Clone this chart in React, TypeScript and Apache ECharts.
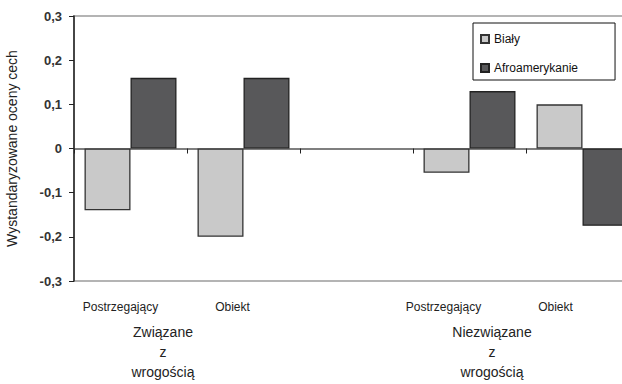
import React, { useEffect, useRef } from "react";
import * as echarts from "echarts";

const categories = ["Postrzegający", "Obiekt", "", "Postrzegający", "Obiekt"];
const labelShift = [20, 22, 0, 52, 54];
const seriesNames = ["Biały", "Afroamerykanie"];
const bialy = [-0.14, -0.2, null, -0.055, 0.1];
const afro = [0.16, 0.16, null, 0.13, -0.175];
const groupLabels = ["Związane\nz\nwrogością", "Niezwiązane\nz\nwrogością"];
const yTicks = { min: -0.3, max: 0.3, interval: 0.1 };

export default function App() {
  const ref = useRef<HTMLDivElement>(null);
  useEffect(() => {
    const chart = echarts.init(ref.current!, null, { renderer: "svg" });
    const rich: any = {};
    labelShift.forEach((s, i) => {
      rich["l" + i] = { padding: [0, s, 0, 0], fontSize: 12, color: "#222", fontFamily: "Liberation Sans" };
    });
    const groupText = (text: string, x: number) => ({
      type: "text",
      x,
      y: 322,
      style: {
        text,
        textAlign: "center",
        fontSize: 14,
        lineHeight: 20,
        fill: "#222",
        fontFamily: "Liberation Sans",
      },
    });
    chart.setOption({
      animation: false,
      grid: {
        left: 74,
        top: 16,
        height: 265,
        width: 565,
        outerBoundsMode: "none",
        containLabel: false,
        show: true,
        borderColor: "#b4b4b4",
        borderWidth: 2,
      },
      legend: {
        orient: "vertical",
        left: 473,
        top: 23,
        borderColor: "#111",
        borderWidth: 1,
        padding: [10, 37, 6, 7],
        itemGap: 17,
        itemWidth: 8,
        itemHeight: 8,
        icon: "rect",
        textStyle: { fontSize: 12, color: "#111", fontFamily: "Liberation Sans" },
        data: seriesNames,
      },
      xAxis: [
        {
          type: "category",
          data: categories,
          axisLine: { onZero: true, lineStyle: { color: "#555", width: 1.5 } },
          axisTick: { show: true, length: 5, lineStyle: { color: "#222" } },
          axisLabel: { show: false },
          splitLine: { show: false },
        },
        {
          type: "category",
          data: categories,
          position: "bottom",
          axisLine: { show: false, onZero: false },
          axisTick: { show: false },
          axisLabel: {
            margin: 20,
            interval: 0,
            formatter: (v: string, i: number) => (v ? `{l${i}|${v}}` : ""),
            rich,
          },
          splitLine: { show: false },
        },
      ],
      yAxis: {
        type: "value",
        min: yTicks.min,
        max: yTicks.max,
        interval: yTicks.interval,
        name: "Wystandaryzowane oceny cech",
        nameLocation: "middle",
        nameGap: 55,
        nameTextStyle: { fontSize: 14, color: "#222", fontFamily: "Liberation Sans" },
        axisLine: { show: true, lineStyle: { color: "#222", width: 1.5 } },
        axisTick: { show: true, length: 5, lineStyle: { color: "#222" } },
        splitLine: { show: false },
        axisLabel: {
          margin: 12,
          fontSize: 13,
          fontWeight: "bold",
          color: "#333",
          fontFamily: "Liberation Sans",
          formatter: (v: number) => (Math.abs(v) < 1e-9 ? "0" : v.toFixed(1).replace(".", ",")),
        },
      },
      series: [
        {
          name: seriesNames[0],
          type: "bar",
          data: bialy,
          barGap: "0%",
          barCategoryGap: "18.6%",
          itemStyle: { color: "#c9c9c9", borderColor: "#333", borderWidth: 1.3 },
        },
        {
          name: seriesNames[1],
          type: "bar",
          data: afro,
          barGap: "0%",
          barCategoryGap: "18.6%",
          itemStyle: { color: "#58585a", borderColor: "#222", borderWidth: 1.3 },
        },
      ],
      graphic: [groupText(groupLabels[0], 163), groupText(groupLabels[1], 492)],
    });
    return () => chart.dispose();
  }, []);
  return (
    <div
      ref={ref}
      style={{ position: "absolute", left: 0, top: 0, width: 622, height: 384 }}
    />
  );
}
